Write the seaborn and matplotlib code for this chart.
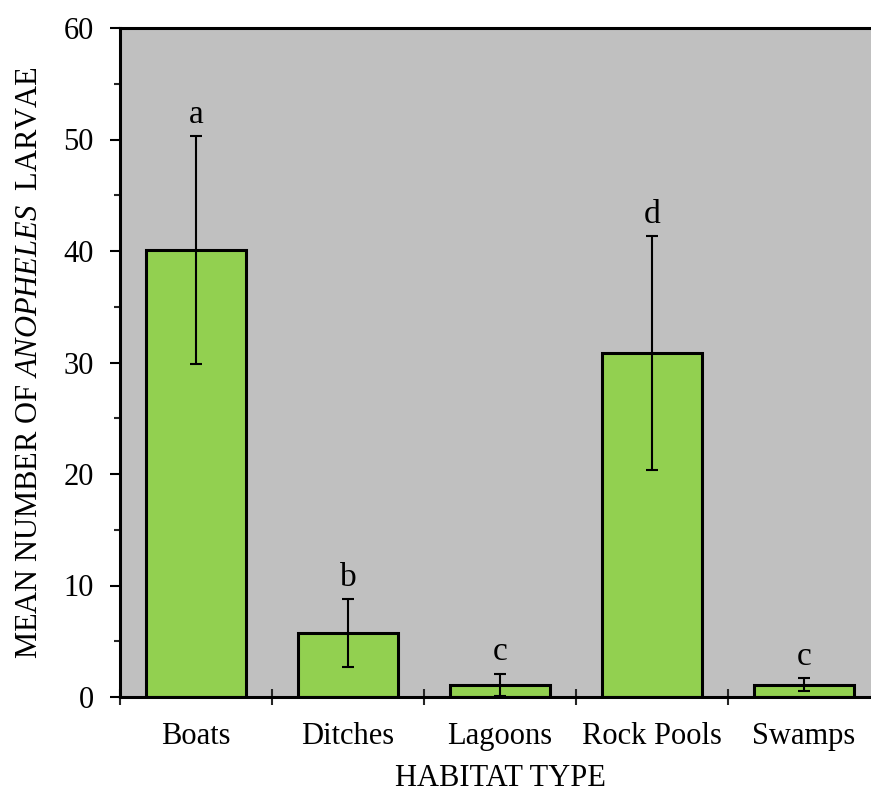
import matplotlib
matplotlib.use("Agg")
import matplotlib.pyplot as plt
import seaborn as sns
import pandas as pd
import numpy as np
from matplotlib.ticker import MultipleLocator, FixedLocator, NullFormatter

habitats = ["Boats", "Ditches", "Lagoons", "Rock Pools", "Swamps"]
means = [40.1, 5.75, 1.1, 30.85, 1.1]
errors = [10.2, 3.05, 1.0, 10.5, 0.6]
letters = ["a", "b", "c", "d", "c"]

sns.set_theme(style="white")
plt.rcParams["font.family"] = ["Liberation Serif", "DejaVu Serif"]
plt.rcParams["mathtext.fontset"] = "custom"
plt.rcParams["mathtext.rm"] = "Liberation Serif"
plt.rcParams["mathtext.it"] = "Liberation Serif:italic"

df = pd.DataFrame({"habitat": habitats, "mean": means})

fig = plt.figure(figsize=(8.71, 7.93), dpi=100)
ax = fig.add_axes([120 / 871, 96 / 793, 760 / 871, 669 / 793])
ax.set_facecolor("#C0C0C0")

sns.barplot(data=df, x="habitat", y="mean", color="#92D050", width=0.66,
            edgecolor="black", linewidth=2.2, saturation=1, ax=ax, zorder=2)
ax.errorbar(np.arange(len(habitats)), means, yerr=errors, fmt="none",
            ecolor="black", elinewidth=1.5, capsize=4, capthick=1.5, zorder=3)

for i, (m, e, l) in enumerate(zip(means, errors, letters)):
    ax.text(i, m + e + 1.2, l, ha="center", va="baseline", fontsize=24,
            color="black")

ax.set_ylim(0, 60)
ax.set_xlim(-0.5, 4.5)
ax.yaxis.set_major_locator(MultipleLocator(10))
ax.yaxis.set_minor_locator(MultipleLocator(5))
ax.tick_params(axis="y", which="major", direction="out", length=7, width=1.5,
               labelsize=22, colors="black", left=True, pad=12)
ax.tick_params(axis="y", which="minor", direction="out", length=4.5, width=1.5,
               left=True)

ax.set_xticks(range(len(habitats)))
ax.set_xticklabels(habitats)
ax.tick_params(axis="x", which="major", length=0, labelsize=22, pad=18,
               colors="black")
ax.xaxis.set_minor_locator(FixedLocator(np.arange(-0.5, 5.0, 1.0)))
ax.xaxis.set_minor_formatter(NullFormatter())
ax.tick_params(axis="x", which="minor", direction="inout", length=12,
               width=1.5, bottom=True)

for side in ["left", "bottom", "top"]:
    ax.spines[side].set_visible(True)
    ax.spines[side].set_color("black")
    ax.spines[side].set_linewidth(2.2)
ax.spines["right"].set_visible(False)

ax.set_xlabel("HABITAT TYPE", fontsize=22, labelpad=9, color="black")
ax.set_ylabel("MEAN NUMBER OF $\\it{ANOPHELES}$  LARVAE", fontsize=22,
              labelpad=14, color="black")
ax.grid(False)

fig.savefig("out.png", dpi=100)
